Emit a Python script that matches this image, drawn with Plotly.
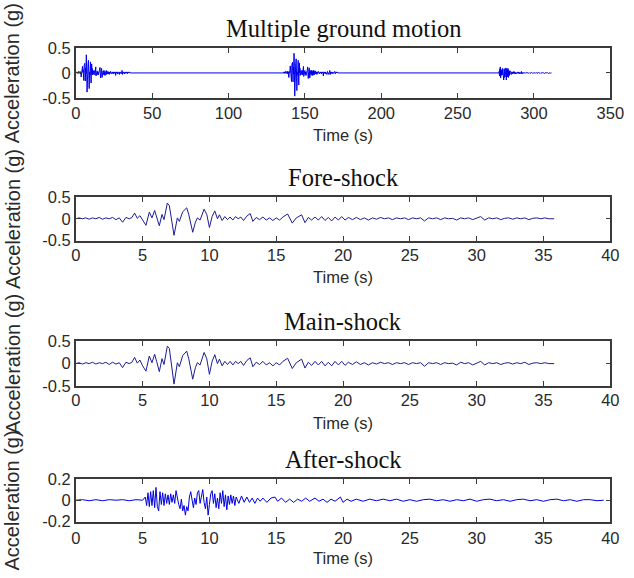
import plotly.graph_objects as go

# ---------------- data ----------------
record_time = [0.0, 0.25, 0.5, 0.75, 1.0, 1.25, 1.5, 1.75, 2.0, 2.25, 2.5, 2.75, 3.0, 3.25, 3.5, 3.75,
               4.0, 4.2, 4.4, 4.6, 4.8, 5.0, 5.25, 5.5, 5.7, 5.9, 6.05, 6.25, 6.45, 6.6, 6.85, 7.0,
               7.35, 7.6, 7.75, 8.0, 8.3, 8.45, 8.75, 8.95, 9.1, 9.3, 9.6, 9.8, 10.0, 10.2, 10.4,
               10.6, 10.75, 10.95, 11.15, 11.35, 11.55, 11.75, 11.95, 12.15, 12.35, 12.55, 12.8,
               13.05, 13.25, 13.5, 13.75, 14.0, 14.25, 14.5, 14.75, 15.0, 15.25, 15.5, 15.85, 16.2,
               16.5, 16.9, 17.15, 17.4, 17.65, 17.9, 18.15, 18.4, 18.65, 18.9, 19.15, 19.4, 19.65,
               19.9, 20.15, 20.4, 20.7, 21.0, 21.3, 21.6, 21.9, 22.2, 22.5, 22.8, 23.1, 23.4, 23.7,
               24.0, 24.3, 24.6, 24.9, 25.2, 25.5, 25.8, 26.1, 26.4, 26.7, 27.0, 27.3, 27.6, 27.9,
               28.2, 28.5, 28.8, 29.1, 29.4, 29.7, 30.0, 30.3, 30.6, 30.9, 31.2, 31.5, 31.8, 32.1,
               32.4, 32.7, 33.0, 33.3, 33.6, 33.9, 34.2, 34.5, 34.8, 35.1, 35.4, 35.8]

fore_acc = [0.00, 0.02, 0.00, 0.02, -0.01, 0.02, 0.00, 0.03, -0.01, 0.02, 0.00, 0.03, -0.02, 0.02, -0.08, 0.03,
            0.00, 0.03, 0.13, 0.01, 0.07, -0.04, -0.15, 0.15, 0.02, 0.19, 0.05, -0.16, 0.10, -0.02, 0.36, 0.30,
            -0.38, 0.02, -0.06, 0.16, 0.25, 0.10, -0.31, -0.08, 0.02, -0.03, 0.22, 0.10, -0.20, 0.05, 0.18,
            0.00, 0.09, -0.04, 0.05, -0.02, 0.04, -0.03, 0.05, 0.00, 0.04, -0.04, 0.06,
            0.12, -0.06, 0.03, -0.02, 0.04, -0.03, 0.02, -0.04, 0.02, -0.03, 0.04, 0.11, -0.10,
            0.02, 0.09, -0.09, 0.03, -0.03, 0.04, -0.03, 0.05, -0.04, 0.03, -0.05, 0.04, -0.03,
            0.05, -0.03, 0.03, -0.02, 0.03, -0.02, 0.02, -0.03, 0.02, -0.01, 0.03, 0.00, 0.02, -0.02,
            0.02, 0.00, 0.02, -0.02, 0.02, 0.00, 0.02, -0.05, 0.02, 0.00, 0.02, -0.02, 0.02, 0.00,
            0.01, -0.03, 0.02, 0.00, 0.02, -0.02, 0.01, 0.05, -0.03, 0.02, 0.00, 0.02, -0.02, 0.01,
            0.02, -0.01, 0.02, 0.00, 0.02, -0.02, 0.01, 0.02, 0.00, 0.02, 0.00, 0.00]

main_acc = [0.00, 0.02, -0.01, 0.02, 0.00, 0.03, -0.01, 0.02, 0.00, 0.03, -0.02, 0.03, -0.01, 0.02, -0.09, 0.03,
            0.00, 0.03, 0.14, 0.01, 0.08, -0.05, -0.17, 0.17, 0.02, 0.21, 0.05, -0.18, 0.11, -0.02, 0.39, 0.34,
            -0.46, 0.02, -0.07, 0.18, 0.28, 0.11, -0.35, -0.09, 0.02, -0.03, 0.25, 0.11, -0.24, 0.05, 0.20,
            0.00, 0.10, -0.05, 0.05, -0.02, 0.05, -0.03, 0.05, 0.00, 0.05, -0.04, 0.07,
            0.13, -0.07, 0.03, -0.02, 0.05, -0.03, 0.02, -0.05, 0.02, -0.03, 0.05, 0.12, -0.11,
            0.02, 0.10, -0.10, 0.03, -0.04, 0.05, -0.03, 0.05, -0.05, 0.03, -0.05, 0.05, -0.03,
            0.05, -0.04, 0.03, -0.02, 0.04, -0.02, 0.02, -0.03, 0.02, -0.01, 0.03, 0.00, 0.02, -0.02,
            0.02, 0.00, 0.02, -0.02, 0.02, 0.00, 0.02, -0.06, 0.02, 0.00, 0.02, -0.02, 0.02, 0.00,
            0.01, -0.03, 0.03, 0.00, 0.02, -0.03, 0.01, 0.05, -0.03, 0.02, 0.00, 0.02, -0.02, 0.01,
            0.02, -0.01, 0.02, 0.00, 0.03, -0.02, 0.01, 0.02, 0.00, 0.02, 0.00, 0.00]

after_time = [0.0, 0.5, 1.0, 1.5, 2.0, 2.5, 3.0, 3.5, 4.0, 4.5, 5.0,
              5.2, 5.3, 5.4, 5.5, 5.6, 5.7, 5.8, 5.9, 6.0, 6.1, 6.2, 6.3, 6.4, 6.5, 6.6, 6.7, 6.8, 6.9,
              7.0, 7.1, 7.2, 7.3, 7.4, 7.5, 7.6, 7.7, 7.8, 7.9, 8.0, 8.1, 8.2, 8.3, 8.4, 8.5, 8.6, 8.7,
              8.8, 8.9, 9.0, 9.1, 9.2, 9.3, 9.4, 9.5, 9.6, 9.7, 9.8, 9.9, 10.0, 10.1, 10.2, 10.3, 10.4,
              10.5, 10.6, 10.7, 10.8, 10.9, 11.0, 11.1, 11.2, 11.3, 11.4, 11.5, 11.6, 11.7, 11.8, 11.9,
              12.0, 12.2, 12.4, 12.6, 12.8, 13.0, 13.2, 13.4, 13.6, 13.8, 14.0, 14.3, 14.6, 14.9, 15.1,
              15.4, 15.7, 16.0, 16.3, 16.6, 16.9, 17.2, 17.5, 17.9, 18.2, 18.5, 18.8, 19.1, 19.4, 19.8,
              20.0, 20.3, 20.6, 21.0, 21.5, 22.0, 22.5, 23.0, 23.5, 24.0, 24.5, 25.0, 25.5, 26.0, 26.5,
              27.0, 27.5, 28.0, 28.5, 29.0, 29.5, 30.0, 30.5, 31.0, 31.5, 32.0, 32.5, 33.0, 33.5, 34.0,
              34.5, 35.0, 35.5, 36.0, 36.5, 37.0, 37.5, 38.0, 38.5, 39.0, 39.5]

after_acc = [0.0, 0.005, -0.005, 0.005, -0.005, 0.005, 0.0, 0.005, -0.005, 0.005, 0.0,
             0.03, -0.05, 0.07, -0.06, 0.08, -0.05, 0.09, -0.07, 0.12, -0.06, -0.10, 0.08, -0.04, 0.07, -0.05, 0.06, -0.03, 0.05,
             -0.04, 0.06, -0.02, 0.05, -0.03, 0.09, 0.02, -0.04, -0.08, 0.01, -0.10, -0.05, -0.14, -0.06, -0.10, 0.03, 0.08, -0.02,
             -0.07, 0.02, -0.04, 0.07, 0.09, -0.03, 0.05, 0.10, -0.02, -0.08, 0.03, -0.14, -0.04, 0.06, 0.09, -0.03, 0.06,
             -0.07, 0.02, -0.08, 0.07, -0.03, 0.09, -0.06, 0.05, -0.09, 0.04, -0.04, 0.05, -0.03, 0.04, -0.05,
             0.03, -0.03, 0.04, -0.02, 0.03, -0.02, 0.02, -0.03, 0.02, -0.01, 0.02, -0.02, 0.02, 0.03, -0.01,
             0.02, -0.02, 0.01, -0.02, 0.01, -0.01, 0.02, -0.01, 0.02, -0.01, 0.01, -0.02, 0.01, -0.01, 0.03,
             -0.02, 0.01, -0.01, 0.01, -0.01, 0.01, -0.005, 0.01, -0.005, 0.01, -0.01, 0.005, -0.01, 0.005, 0.01,
             -0.005, 0.005, -0.01, 0.005, -0.005, 0.01, -0.01, 0.005, 0.01, -0.005, 0.005, -0.01, 0.005, 0.01, -0.005,
             0.005, -0.01, 0.005, 0.01, -0.005, 0.005, -0.01, 0.005, 0.005, -0.005, 0.0]

# start time of each record inside the multiple ground motion sequence (s)
sequence_offsets = [0, 136, 272]

titles = ["Multiple ground motion", "Fore-shock", "Main-shock", "After-shock"]
y_label = "Acceleration (g)"
x_label = "Time (s)"

x_ticks_seq = [0, 50, 100, 150, 200, 250, 300, 350]
x_ticks_rec = [0, 5, 10, 15, 20, 25, 30, 35, 40]
y_ticks_big = [-0.5, 0, 0.5]
y_ticks_big_text = ["-0.5", "0", "0.5"]
y_ticks_small = [-0.2, 0, 0.2]
y_ticks_small_text = ["-0.2", "0", "0.2"]

# ---------------- build ----------------
W, H = 634, 578
LEFT, RIGHT = 73, 624
boxes = [(40, 92), (194, 239), (343, 389), (485, 529)]  # top, bottom in px
title_gap, xlabel_gap = 20, 38

seq_time = []
seq_acc = []
for off, (tt, aa) in zip(sequence_offsets,
                         [(record_time, fore_acc), (record_time, main_acc), (after_time, after_acc)]):
    seq_time += [t + off for t in tt]
    seq_acc += list(aa)

series = [(seq_time, seq_acc, "#0000ee"),
          (record_time, fore_acc, "#1c1c96"),
          (record_time, main_acc, "#1c1c96"),
          (after_time, after_acc, "#0000e0")]

SANS = "Liberation Sans, Arial, sans-serif"
fig = go.Figure()
tick_font = dict(family=SANS, size=16.5, color="#2a2a2a")
axis_common = dict(showline=True, linecolor="#3a3a3a", linewidth=1.5, mirror="ticks",
                   ticks="inside", ticklen=5, tickwidth=1, tickcolor="#3a3a3a",
                   showgrid=False, zeroline=False, tickfont=tick_font)

annotations = []
xc = (LEFT + RIGHT) / 2 / W
for i, ((tt, aa, col), (top, bot)) in enumerate(zip(series, boxes)):
    k = "" if i == 0 else str(i + 1)
    fig.add_trace(go.Scatter(x=tt, y=aa, mode="lines", line=dict(color=col, width=1),
                             xaxis="x" + k, yaxis="y" + k, showlegend=False, hoverinfo="skip"))
    yd = [1 - bot / H, 1 - top / H]
    if i == 0:
        xr, xt = [0, 350], x_ticks_seq
    else:
        xr, xt = [0, 40], x_ticks_rec
    if i == 3:
        yr, yt, ytt = [-0.2, 0.2], y_ticks_small, y_ticks_small_text
    else:
        yr, yt, ytt = [-0.5, 0.5], y_ticks_big, y_ticks_big_text
    fig.layout["xaxis" + k] = dict(axis_common, domain=[LEFT / W, RIGHT / W], range=xr,
                                   tickvals=xt, ticktext=[str(v) for v in xt],
                                   ticklabelstandoff=(1 if i == 3 else -1), anchor="y" + k)
    fig.layout["yaxis" + k] = dict(axis_common, domain=yd, range=yr, tickvals=yt, ticktext=ytt,
                                   anchor="x" + k)
    annotations.append(dict(text=titles[i], x=xc, y=1 - (top - title_gap) / H,
                            xref="paper", yref="paper", showarrow=False, xanchor="center", yanchor="middle",
                            font=dict(family="Liberation Serif, Times New Roman, serif", size=24.5, color="#111")))
    annotations.append(dict(text=x_label, x=xc, y=1 - (bot + xlabel_gap) / H,
                            xref="paper", yref="paper", showarrow=False, xanchor="center", yanchor="middle",
                            font=dict(family=SANS, size=16.5, color="#2a2a2a")))
    annotations.append(dict(text=y_label, x=7.5 / W, y=1 - (top + bot) / 2 / H, textangle=-90,
                            xref="paper", yref="paper", showarrow=False, xanchor="center", yanchor="middle",
                            font=dict(family=SANS, size=20, color="#2a2a2a")))

fig.update_layout(width=W, height=H, margin=dict(l=0, r=0, t=0, b=0),
                  paper_bgcolor="white", plot_bgcolor="white", annotations=annotations)

fig.write_html("out.html", config={"displayModeBar": False},
               post_script="document.body.style.margin='0';document.body.style.overflow='hidden';")
